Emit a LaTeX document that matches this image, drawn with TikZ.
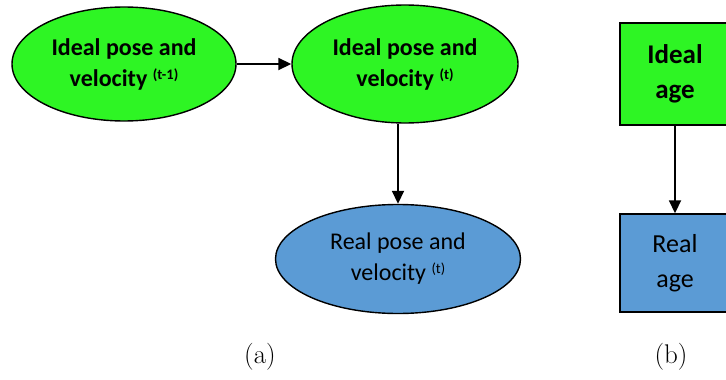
\documentclass[tikz,border=0pt]{standalone}
\usepackage{fontspec}
\newfontfamily\calfont{Carlito}
\usetikzlibrary{shapes.geometric,arrows.meta}
\definecolor{igreen}{RGB}{46,245,36}
\definecolor{rblue}{RGB}{91,155,213}
\newcommand\supx[1]{\raisebox{7pt}{\fontsize{14.5}{14.5}\selectfont #1}}
\begin{document}
\begin{tikzpicture}[x=1pt,y=-1pt,
  shapeline/.style={draw=black, line width=1.4pt, inner sep=0pt, align=center},
  ell/.style={shapeline, ellipse},
  ideal/.style={fill=igreen, font=\calfont\bfseries\fontsize{24}{31}\selectfont},
  real/.style={fill=rblue, font=\calfont\fontsize{24}{31}\selectfont},
  boxn/.style={shapeline, rectangle, minimum width=110pt},
  conn/.style={line width=1.8pt, -{Triangle[length=13pt,width=12pt]}},
  captext/.style={font=\fontsize{27}{32}\selectfont}
]
\useasboundingbox (0,0) rectangle (726,380);
\clip (0,0) rectangle (726,380);
\node[ell, ideal, minimum width=224pt, minimum height=114pt] (e1) at (124,64) {Ideal pose and\\velocity \supx{(t-1)}};
\node[ell, ideal, minimum width=226pt, minimum height=118pt] (e2) at (405,64) {Ideal pose and\\velocity \supx{(t)}};
\node[ell, real, minimum width=245pt, minimum height=109pt] (e3) at (398,259) {Real pose and\\velocity \supx{(t)}};
\draw[conn] (e1.east) -- (e2.west);
\draw[conn] (e3.north |- e2.south) -- (e3.north);
\node[boxn, ideal, minimum height=102pt, font=\calfont\bfseries\fontsize{27}{35}\selectfont] (b1) at (675,74) {Ideal\\age};
\node[boxn, real, minimum height=98pt, font=\calfont\fontsize{26}{35}\selectfont] (b2) at (675,263) {Real\\age};
\draw[conn] (b1.south) -- (b2.north);
\node[captext] (la) at (260,357) {(a)};
\node[captext] (lb) at (671,357) {(b)};
\end{tikzpicture}
\end{document}
